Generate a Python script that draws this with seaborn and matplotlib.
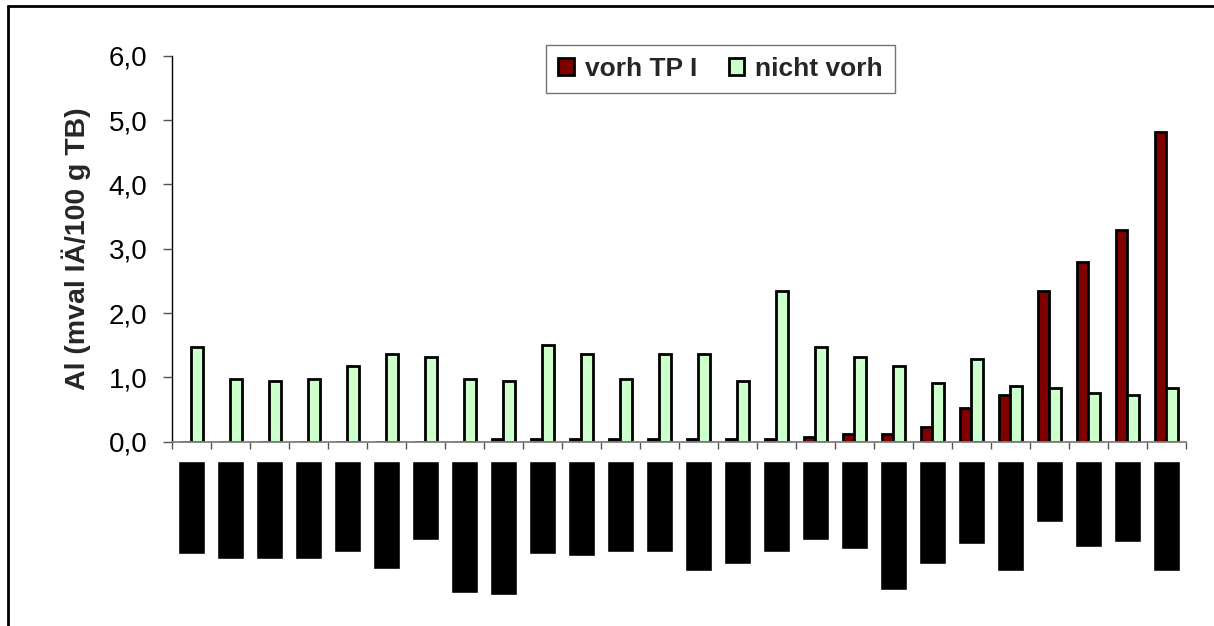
import numpy as np
import pandas as pd
import matplotlib
matplotlib.use("Agg")
import matplotlib.pyplot as plt
from matplotlib.lines import Line2D
from matplotlib.ticker import FuncFormatter
import seaborn as sns

# sample names are blacked out in the source, so just number them
samples = [str(i) for i in range(1, 27)]
series = ["vorh TP I", "nicht vorh"]
vorh_tp1 = [0, 0, 0, 0, 0, 0, 0, 0, 0.04, 0.04, 0.04, 0.04, 0.04, 0.04, 0.04, 0.04,
            0.08, 0.115, 0.115, 0.23, 0.53, 0.72, 2.35, 2.80, 3.29, 4.81]
nicht_vorh = [1.47, 0.98, 0.945, 0.98, 1.17, 1.36, 1.32, 0.98, 0.945, 1.51, 1.36, 0.98, 1.36,
              1.36, 0.945, 2.35, 1.475, 1.32, 1.17, 0.91, 1.29, 0.87, 0.83, 0.76, 0.72, 0.83]
# length of the blacked-out category labels (px)
label_len = [93, 98, 98, 98, 91, 108, 79, 132, 134, 93, 95, 91, 91, 110, 103, 91,
             79, 88, 129, 103, 83, 110, 61, 86, 81, 110]

df = pd.DataFrame({
    "sample": samples * 2,
    "serie": [series[0]] * len(samples) + [series[1]] * len(samples),
    "Al": vorh_tp1 + nicht_vorh,
})

sns.set_style("ticks")
plt.rcParams['font.family'] = ['Liberation Sans', 'DejaVu Sans']

W, H = 1214, 626
fig = plt.figure(figsize=(W / 100, H / 100), dpi=100)
left, right = 171.7 / W, 1185.7 / W
top, bottom = 1 - 55.7 / H, 1 - 441.7 / H
ax = fig.add_axes([left, bottom, right - left, top - bottom])

sns.barplot(data=df, x="sample", y="Al", hue="serie", palette=["#800000", "#CCFFCC"],
            width=0.58, edgecolor="black", linewidth=2.0, errorbar=None, saturation=1, ax=ax)

ax.set_xlim(-0.5, len(samples) - 0.5)
ax.set_ylim(0, 6)
ax.set_xticks(np.arange(-0.5, len(samples), 1))
ax.set_xticklabels([])
ax.set_xlabel("")
ax.set_yticks(np.arange(0, 6.1, 1))
ax.yaxis.set_major_formatter(FuncFormatter(lambda v, p: f"{v:.1f}".replace(".", ",")))
ax.tick_params(axis="y", direction="out", length=6.5, width=1, color="#555555",
               labelsize=20, pad=11, labelcolor="black")
ax.tick_params(axis="x", direction="out", length=5, width=1, color="#555555")
sns.despine(ax=ax)
ax.spines["left"].set_color("black")
ax.spines["left"].set_linewidth(1)
ax.spines["bottom"].set_color("#808080")
ax.spines["bottom"].set_linewidth(1.3)
ax.set_ylabel("Al (mval IÄ/100 g TB)", fontsize=20.5, fontweight="bold", labelpad=13)

handles, labels = ax.get_legend_handles_labels()
ax.legend(handles, labels, ncol=2, loc="center", bbox_to_anchor=(720.5 / W, 1 - 68.7 / H),
          bbox_transform=fig.transFigure, frameon=True, fancybox=False, edgecolor="#505050",
          prop={"weight": "bold", "size": 19}, handlelength=0.6, handleheight=0.6,
          handletextpad=0.4, columnspacing=1.2, borderpad=0.45)
ax.get_legend().get_frame().set_linewidth(1)

# blacked-out category labels below the axis
ax2 = fig.add_axes([left, 0, right - left, 1 - 461 / H])
sns.barplot(x=samples, y=label_len, color="black", width=0.69, saturation=1, ax=ax2)
ax2.set_xlim(-0.5, len(samples) - 0.5)
ax2.set_ylim(H - 461, 0)
ax2.axis("off")

# chart area border (left and top)
fig.add_artist(Line2D([8 / W, 8 / W], [0, 1 - 6 / H], transform=fig.transFigure,
                      color="black", lw=2))
fig.add_artist(Line2D([8 / W, 1], [1 - 6 / H, 1 - 6 / H], transform=fig.transFigure,
                      color="black", lw=2))

fig.savefig("out.png", dpi=100)
